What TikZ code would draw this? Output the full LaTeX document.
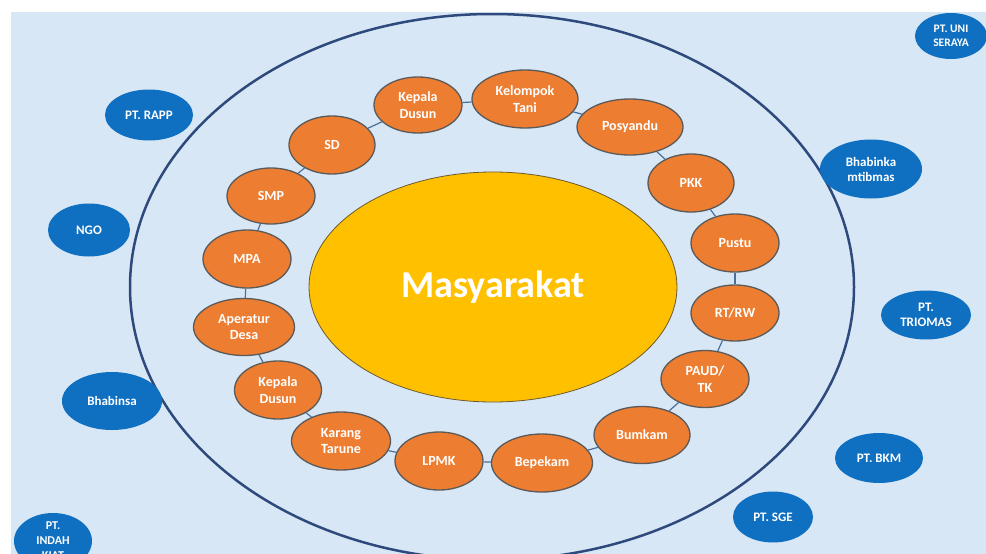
\documentclass[tikz,border=0pt]{standalone}
\usepackage{fontspec}
\setmainfont{Carlito}
\usetikzlibrary{shapes.geometric}
\definecolor{bgblue}{HTML}{D8E7F5}
\definecolor{navy}{HTML}{2E4A7D}
\definecolor{orangefill}{HTML}{ED7D31}
\definecolor{orangeline}{HTML}{5A5A5A}
\definecolor{gold}{HTML}{FFC000}
\definecolor{goldline}{HTML}{6A5A30}
\definecolor{bluefill}{HTML}{0F6FC0}
\definecolor{linkcol}{HTML}{4A6F9A}
\begin{document}
\begin{tikzpicture}[x=1pt,y=-1pt,
  orng/.style 2 args={ellipse, fill=orangefill, draw=orangeline, line width=1.3pt,
    minimum width=#1, minimum height=#2, inner sep=0pt, text=white,
    font=\fontsize{14}{16.5}\selectfont\bfseries, align=center},
  blu/.style 2 args={ellipse, fill=bluefill, draw=none,
    minimum width=#1, minimum height=#2, inner sep=0pt, text=white,
    font=\fontsize{13}{15}\selectfont\bfseries, align=center},
  link/.style={draw=linkcol, line width=1.2pt}]
\useasboundingbox (0,0) rectangle (986,554);
\clip (0,0) rectangle (986,554);
\fill[white] (0,0) rectangle (986,554);
\fill[bgblue] (11,12) rectangle (986,554);
\draw[navy, line width=2.5pt] (492,287) ellipse [x radius=362pt, y radius=273pt];

% centre
\node[ellipse, fill=gold, draw=goldline, line width=0.8pt, minimum width=368, minimum height=230,
  inner sep=0pt, text=white, font=\fontsize{38}{42}\selectfont\bfseries] (mas) at (493,287) {Masyarakat};

% ring
\node[orng={88}{56}]  (k1)   at (418,105) {Kepala\\Dusun};
\node[orng={106}{58}] (kt)   at (525,99)  {Kelompok\\Tani};
\node[orng={106}{56}] (pos)  at (630,127) {Posyandu};
\node[orng={86}{58}]  (pkk)  at (691,183) {PKK};
\node[orng={88}{58}]  (pus)  at (735,243) {Pustu};
\node[orng={88}{56}]  (rt)   at (735,313) {RT/RW};
\node[orng={88}{57}]  (paud) at (705,379) {PAUD/\\TK};
\node[orng={96}{57}]  (bum)  at (642,435) {Bumkam};
\node[orng={101}{58}] (bep)  at (542,463) {Bepekam};
\node[orng={88}{58}]  (lpmk) at (439,461) {LPMK};
\node[orng={99}{58}]  (kar)  at (341,441) {Karang\\Tarune};
\node[orng={87}{58}]  (k2)   at (278,390) {Kepala\\Dusun};
\node[orng={101}{57}] (ap)   at (244,327) {Aperatur\\Desa};
\node[orng={88}{58}]  (mpa)  at (247,259) {MPA};
\node[orng={88}{56}]  (smp)  at (271,196) {SMP};
\node[orng={86}{58}]  (sd)   at (332,145) {SD};

\foreach \a/\b in {k1/kt,kt/pos,pos/pkk,pkk/pus,pus/rt,rt/paud,paud/bum,bum/bep,bep/lpmk,lpmk/kar,kar/k2,k2/ap,ap/mpa,mpa/smp,smp/sd,sd/k1}
  \draw[link] (\a) -- (\b);

% outer partners
\node[blu={88}{51}]  (rapp)  at (149,115) {PT. RAPP};
\node[blu={82}{53}]  (ngo)   at (89,230)  {NGO};
\node[blu={100}{58}] (bhs)   at (112,401) {Bhabinsa};
\node[blu={78}{56}, font=\fontsize{12}{15}\selectfont\bfseries]  (indah) at (53,541)  {PT.\\INDAH\\KIAT};
\node[blu={72}{46}, font=\fontsize{11.5}{14.5}\selectfont\bfseries] (uni) at (951,36) {PT. UNI\\SERAYA};
\node[blu={102}{59}] (bhk)   at (871,169) {Bhabinka\\mtibmas};
\node[blu={90}{49}]  (tri)   at (926,315) {PT.\\TRIOMAS};
\node[blu={88}{50}]  (bkm)   at (879,458) {PT. BKM};
\node[blu={80}{51}]  (sge)   at (773,517) {PT. SGE};
\end{tikzpicture}
\end{document}
